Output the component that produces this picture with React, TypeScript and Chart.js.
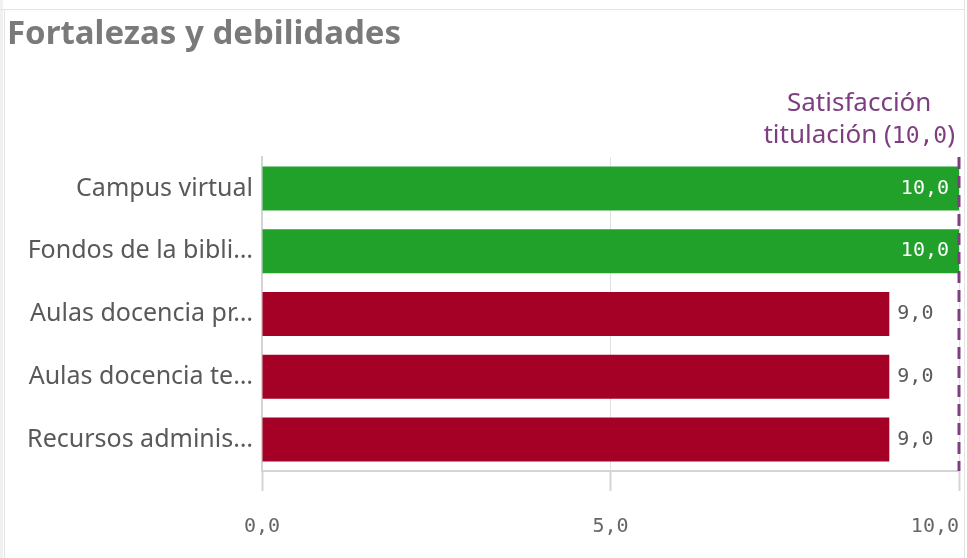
import React, { useEffect, useRef } from "react";
import { Chart, registerables } from "chart.js";

Chart.register(...registerables);

const categories = [
  "Campus virtual",
  "Fondos de la bibli…",
  "Aulas docencia pr…",
  "Aulas docencia te…",
  "Recursos adminis…",
];
const values = [10.0, 10.0, 9.0, 9.0, 9.0];
const strengthFlags = [true, true, false, false, false];
const referenceValue = 10.0;
const referenceLabel = ["Satisfacción", "titulación"];
const xTickValues = [0, 5, 10];
const titleText = "Fortalezas y debilidades";

const GREEN = "#22a12a";
const RED = "#a50026";
const PURPLE = "#7e3f81";
const MONO = "'DejaVu Sans Mono', 'Liberation Mono', monospace";
const SANS = "'Noto Sans', 'Open Sans', sans-serif";

const fmt = (v: number) => v.toFixed(1).replace(".", ",");

const decorPlugin = {
  id: "decor",
  beforeDraw(chart: any) {
    const ctx = chart.ctx;
    ctx.save();
    ctx.fillStyle = "#ffffff";
    ctx.fillRect(0, 0, chart.width, chart.height);
    ctx.fillStyle = "#f1f1f1";
    ctx.fillRect(0, 0, 3, chart.height);
    ctx.strokeStyle = "#e4e4e4";
    ctx.lineWidth = 1;
    ctx.beginPath();
    ctx.moveTo(4.5, 10);
    ctx.lineTo(4.5, chart.height);
    ctx.moveTo(0, 9.5);
    ctx.lineTo(964, 9.5);
    ctx.moveTo(964.5, 0);
    ctx.lineTo(964.5, chart.height);
    ctx.stroke();
    ctx.restore();
  },
  afterDraw(chart: any) {
    const ctx = chart.ctx;
    const xs = chart.scales.x;
    const area = chart.chartArea;
    ctx.save();
    // title
    ctx.fillStyle = "#7a7a7a";
    ctx.font = `bold 33px ${SANS}`;
    ctx.textAlign = "left";
    ctx.textBaseline = "middle";
    ctx.fillText(titleText, 7, 35);

    // x tick labels
    ctx.font = `20px ${MONO}`;
    ctx.fillStyle = "#666666";
    xTickValues.forEach((v) => {
      const t = fmt(v);
      const w = ctx.measureText(t).width;
      let cx = xs.getPixelForValue(v);
      if (cx + w / 2 > chart.width - 8) cx = chart.width - 8 - w / 2;
      ctx.textAlign = "center";
      ctx.fillText(t, cx, 527);
    });

    // bar value labels
    const meta = chart.getDatasetMeta(0);
    meta.data.forEach((bar: any, i: number) => {
      const t = fmt(values[i]);
      ctx.font = `20px ${MONO}`;
      if (strengthFlags[i]) {
        ctx.fillStyle = "#ffffff";
        ctx.textAlign = "right";
        ctx.fillText(t, bar.x - 10, bar.y);
      } else {
        ctx.fillStyle = "#595959";
        ctx.textAlign = "left";
        ctx.fillText(t, bar.x + 8, bar.y);
      }
    });

    // reference line
    const rx = xs.getPixelForValue(referenceValue);
    ctx.strokeStyle = PURPLE;
    ctx.lineWidth = 3;
    ctx.setLineDash([12, 7]);
    ctx.beginPath();
    ctx.moveTo(rx, area.top);
    ctx.lineTo(rx, area.bottom);
    ctx.stroke();
    ctx.setLineDash([]);

    // reference label
    ctx.fillStyle = PURPLE;
    ctx.textBaseline = "middle";
    const SF = `26px ${SANS}`;
    const MF = `23px ${MONO}`;
    ctx.font = SF;
    const l1 = referenceLabel[0];
    const l2a = referenceLabel[1] + " (";
    const l2b = fmt(referenceValue);
    const l2c = ")";
    const w1 = ctx.measureText(l1).width;
    const wa = ctx.measureText(l2a).width;
    const wc = ctx.measureText(l2c).width;
    ctx.font = MF;
    const wb = ctx.measureText(l2b).width;
    const w2 = wa + wb + wc;
    const maxW = Math.max(w1, w2);
    const cx = rx - 4 - maxW / 2;
    ctx.textAlign = "left";
    ctx.font = SF;
    ctx.fillText(l1, cx - w1 / 2, 104);
    const sx = cx - w2 / 2;
    ctx.fillText(l2a, sx, 136);
    ctx.font = MF;
    ctx.fillText(l2b, sx + wa, 137);
    ctx.font = SF;
    ctx.fillText(l2c, sx + wa + wb, 136);
    ctx.restore();
  },
};

export default function App() {
  const ref = useRef<HTMLCanvasElement | null>(null);
  useEffect(() => {
    if (!ref.current) return;
    const chart = new Chart(ref.current, {
      type: "bar",
      data: {
        labels: categories,
        datasets: [
          {
            data: values,
            backgroundColor: strengthFlags.map((s) => (s ? GREEN : RED)),
            borderWidth: 0,
            barPercentage: 0.7,
            categoryPercentage: 1.0,
          },
        ],
      },
      options: {
        indexAxis: "y",
        animation: false,
        responsive: false,
        maintainAspectRatio: false,
        layout: { padding: { left: 0, right: 8, top: 157, bottom: 0 } },
        plugins: {
          legend: { display: false },
          title: { display: false },
          tooltip: { enabled: false },
        },
        scales: {
          x: {
            type: "linear",
            min: 0,
            max: 10,
            afterBuildTicks: (scale: any) => {
              scale.ticks = xTickValues.map((v) => ({ value: v }));
            },
            afterFit: (scale: any) => {
              scale.height = 87;
            },
            ticks: { display: false },
            grid: {
              color: "#e2e2e2",
              lineWidth: 1,
              drawTicks: true,
              tickLength: 20,
              tickColor: "#d4d4d4",
              tickWidth: 2,
            },
            border: { display: true, color: "#d4d4d4", width: 2 },
          },
          y: {
            afterFit: (scale: any) => {
              scale.width = 262;
            },
            ticks: {
              color: "#595959",
              font: { family: SANS, size: 25 },
              padding: 9,
            },
            grid: { display: false, drawTicks: false },
            border: { display: true, color: "#d4d4d4", width: 2 },
          },
        },
      },
      plugins: [decorPlugin],
    } as any);
    return () => chart.destroy();
  }, []);
  return (
    <div style={{ position: "fixed", left: 0, top: 0, width: 967, height: 558 }}>
      <canvas ref={ref} width={967} height={558} style={{ width: 967, height: 558 }} />
    </div>
  );
}
